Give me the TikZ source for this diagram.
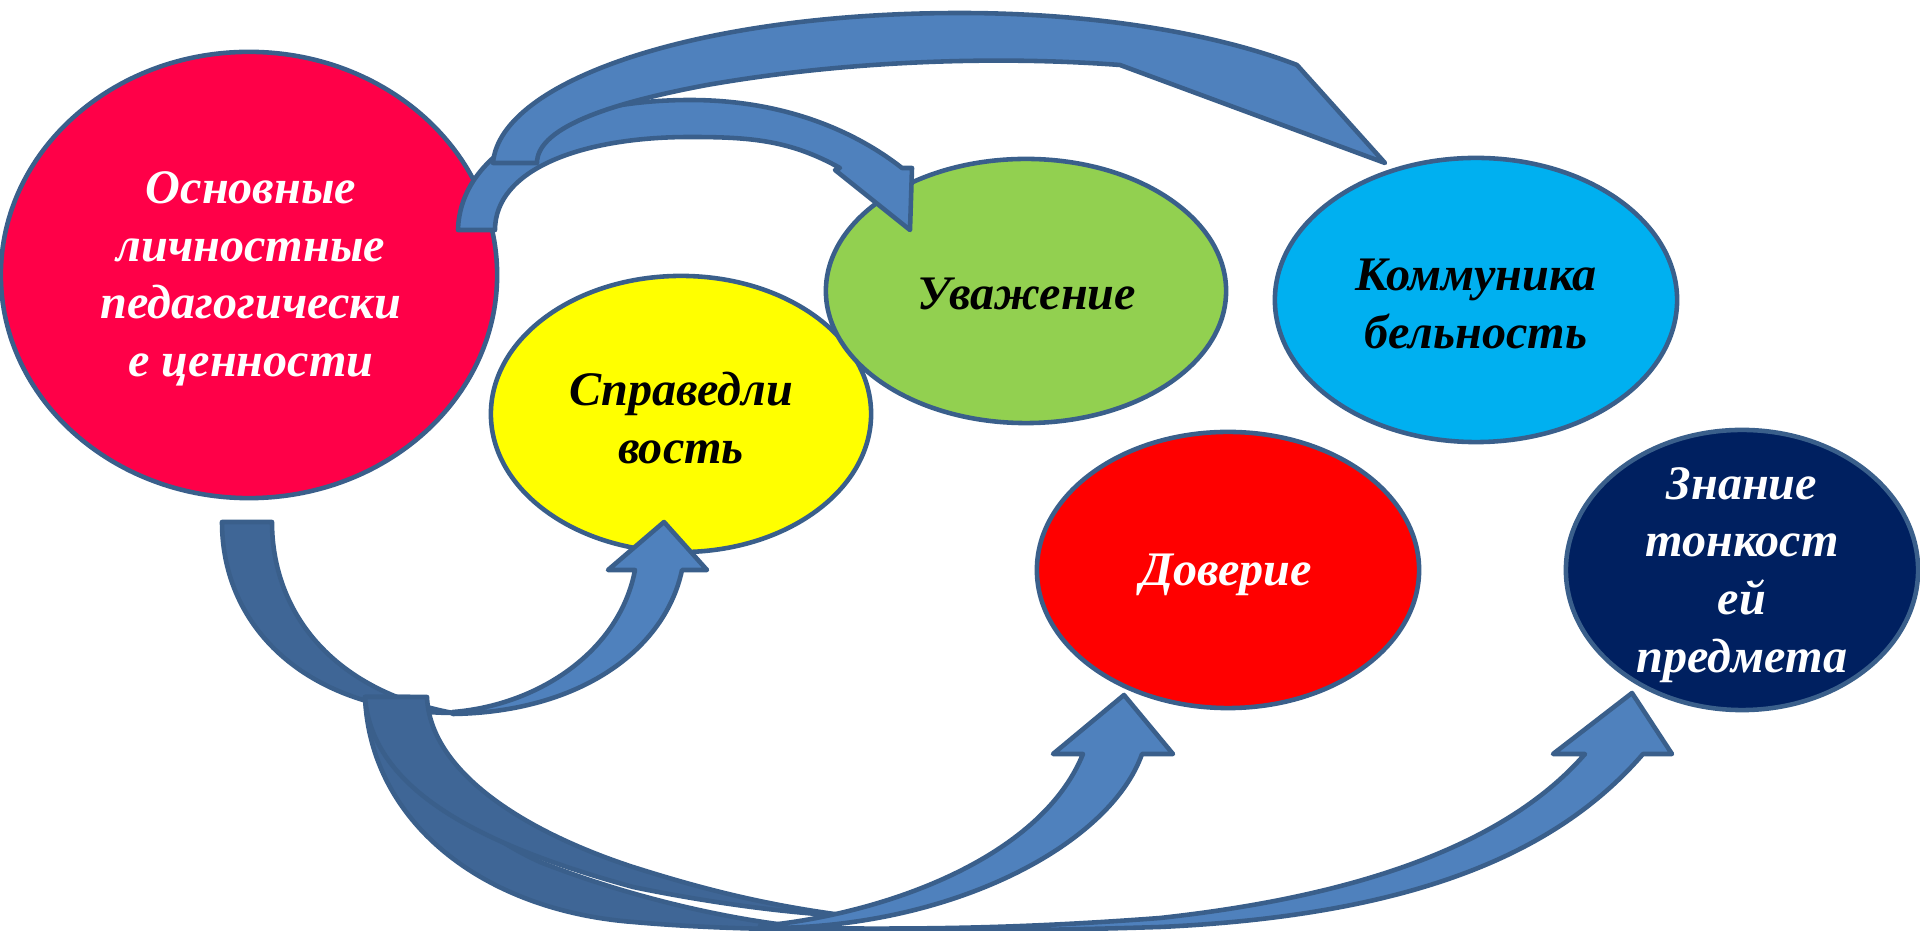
\documentclass[tikz,border=0pt]{standalone}
\usepackage{fontspec}
\setmainfont{Liberation Serif}
\usepackage[]{xcolor}
\usepackage{tikz}
\usetikzlibrary{shapes.geometric}
\definecolor{rim}{HTML}{3A5F8B}
\definecolor{arrowblue}{HTML}{4F81BD}
\definecolor{arrowdark}{HTML}{3F6696}
\definecolor{bubblepink}{HTML}{FF0048}
\definecolor{bubblegreen}{HTML}{92D050}
\definecolor{bubblesky}{HTML}{00B0F0}
\definecolor{bubblenavy}{HTML}{002060}
\definecolor{bubbleyellow}{HTML}{FFFF00}

\begin{document}
\begin{tikzpicture}[x=0.01cm, y=-0.01cm,
    bubble/.style={ellipse, draw=rim, line width=1.3pt, inner sep=0pt},
    word/.style={font=\fontsize{13.7}{16.4}\selectfont\bfseries\itshape, align=center, inner sep=0pt},
    band/.style={draw=rim, line width=1.3pt, line join=round, fill=arrowblue},
    backband/.style={band, fill=arrowdark}]
    \useasboundingbox (0,0) rectangle (1920,931);
    \node[bubble, fill=bubblepink, minimum width=4.96cm, minimum height=4.46cm] (osnov) at (249,275) {};
    \node[bubble, fill=bubbleyellow, minimum width=3.8cm, minimum height=2.76cm] (sprav) at (681,414) {};
    \node[bubble, fill=bubblegreen, minimum width=4cm, minimum height=2.64cm] (uvazh) at (1026,291) {};
    \node[bubble, fill=bubblesky, minimum width=4.02cm, minimum height=2.84cm] (kommun) at (1476,300) {};
    \node[bubble, fill=red, minimum width=3.82cm, minimum height=2.76cm] (dover) at (1228,570) {};
    \node[bubble, fill=bubblenavy, minimum width=3.52cm, minimum height=2.8cm] (znanie) at (1742,570) {};
    \draw[band] (458,230) .. controls (460,150) and (560,100) .. (690,100)
        .. controls (790,100) and (860,135) .. (902,168) -- (912,168) -- (910,230) -- (835,170) -- (840,168)
        .. controls (790,140) and (750,137) .. (690,137)
        .. controls (580,137) and (495,170) .. (495,230) -- cycle;
    \draw[band] (493,163) .. controls (500,80) and (700,13) .. (960,13)
        .. controls (1100,13) and (1220,35) .. (1297,65) -- (1385,163) -- (1120,65)
        .. controls (1000,56) and (850,60) .. (707,85)
        .. controls (600,105) and (537,130) .. (537,163) -- cycle;
    \draw[backband] (222,522) .. controls (222,630) and (310,712) .. (453,713)
        .. controls (330,690) and (272,610) .. (272,522) -- cycle;
    \draw[band] (453,714) .. controls (580,712) and (665,650) .. (682,570) -- (707,570) -- (664,522)
        -- (608,570) -- (635,570) .. controls (620,650) and (540,705) .. (453,712) -- cycle;
    \draw[backband] (365,697) .. controls (370,820) and (480,910) .. (633,922)
        .. controls (700,928) and (780,930) .. (827,929)
        .. controls (760,925) and (650,905) .. (540,862)
        .. controls (470,830) and (420,780) .. (410,697) -- cycle;
    \draw[backband] (365,697) .. controls (372,790) and (480,845) .. (633,887)
        .. controls (720,905) and (800,914) .. (850,916)
        .. controls (760,905) and (690,885) .. (633,867)
        .. controls (520,830) and (430,770) .. (427,697) -- cycle;
    \draw[band] (760,928) .. controls (950,930) and (1110,845) .. (1142,754) -- (1173,754) -- (1124,695)
        -- (1053,754) -- (1083,754) .. controls (1040,860) and (880,915) .. (760,926) -- cycle;
    \draw[band] (780,929) .. controls (900,931) and (1000,932) .. (1160,927)
        .. controls (1420,915) and (1560,850) .. (1643,754) -- (1672,754) -- (1632,693)
        -- (1553,754) -- (1585,754) .. controls (1510,840) and (1370,895) .. (1160,918)
        .. controls (1000,930) and (900,929) .. (780,928) -- cycle;
    \node[word, white] (osnov-t) at (251,279) {Основные\\личностные\\педагогически\\е ценности};
    \node[word] (sprav-t) at (681,418) {Справедли\\вость};
    \node[word] (uvazh-t) at (1027,294) {Уважение};
    \node[word] (kommun-t) at (1476,304) {Коммуника\\бельность};
    \node[word, white] (dover-t) at (1226,575) {Доверие};
    \node[word, white] (znanie-t) at (1742,575) {Знание\\тонкост\\ей\\предмета};
\end{tikzpicture}
\end{document}
